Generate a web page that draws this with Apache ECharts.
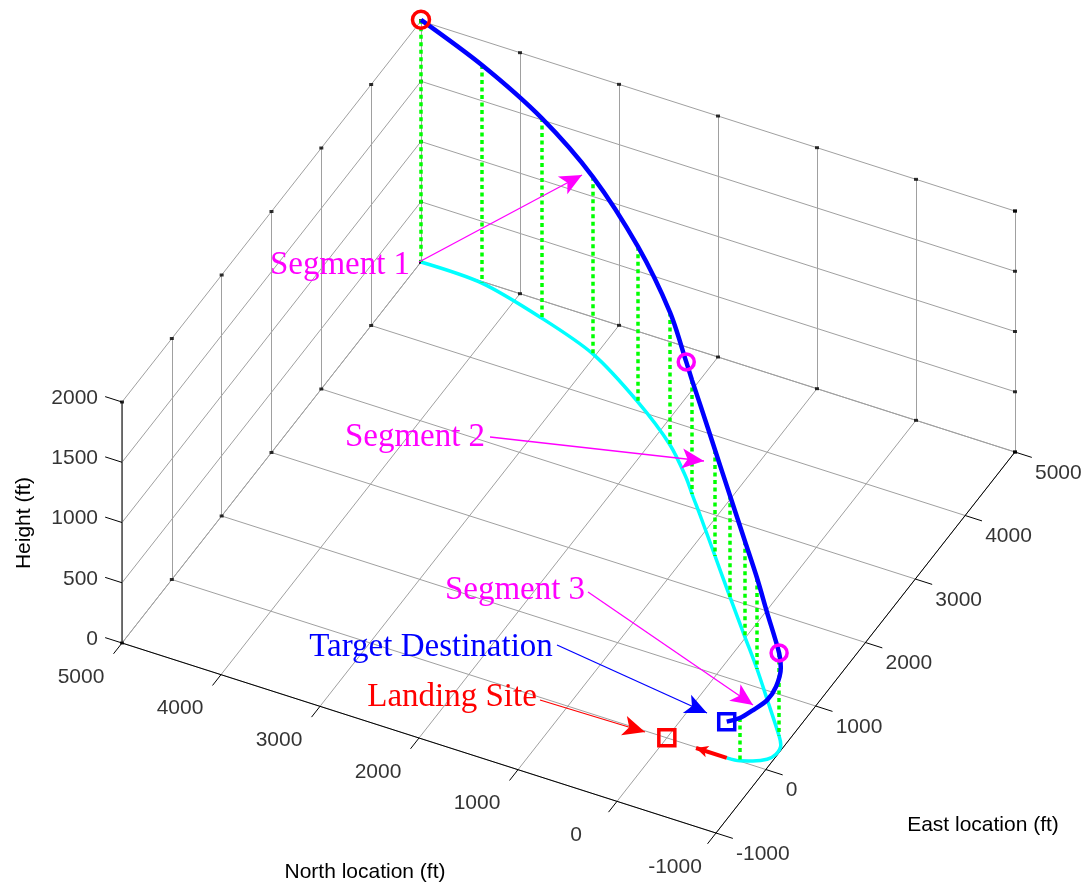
<!DOCTYPE html>
<html><head><meta charset="utf-8">
<script src="https://cdn.jsdelivr.net/npm/echarts@6/dist/echarts.min.js"></script>
<style>html,body{margin:0;padding:0;background:#fff}#c{width:1090px;height:888px}</style>
</head><body><div id="c"></div>
<script>
// ---------------- data ----------------
const northTicks  = [-1000, 0, 1000, 2000, 3000, 4000, 5000];
const eastTicks   = [-1000, 0, 1000, 2000, 3000, 4000, 5000];
const heightTicks = [0, 500, 1000, 1500, 2000];

// trajectory (ft)
const pathNorth  = [5000, 4375, 3670, 3030, 2360, 1830, 1490, 1342, 1144, 763, 382, 8, -292, -563, -895, -965, -985, -945, -840, -735, -610];
const pathEast   = [5000, 4980, 4780, 4535, 4110, 3700, 3350, 3171, 2939, 2483, 2027, 1584, 1230, 892, 475, 370, 235, 135, 55, 5, -10];
const pathHeight = [2010, 1810, 1660, 1470, 1290, 1100, 963, 945, 920, 880, 840, 795, 755, 720, 690, 640, 560, 490, 420, 355, 300];
const dropIndex = [0, 1, 2, 3, 4, 5, 7, 9, 10, 11, 12, 14, 19];
const segmentStartIndex = [6, 14];

const landingNorth = 0, landingEast = 0, landingHeight = 0;
const arrowNorth = [-610, -300];
const arrowEast  = [-10, -10];

const annotationTexts  = ['Segment 1', 'Segment 2', 'Segment 3', 'Target Destination', 'Landing Site'];
const annotationColors = ['#ff00ff', '#ff00ff', '#ff00ff', '#0000ff', '#ff0000'];

// ---------------- layout ----------------
const W = 1090, H = 888;
const view = { x0: 122, y0: 643, n: [99, 31.67], e: [49.83, -63.5], z: 120.5 };
const nMax = Math.max(...northTicks), nMin = Math.min(...northTicks);
const eMax = Math.max(...eastTicks),  eMin = Math.min(...eastTicks);
const zMax = Math.max(...heightTicks);
function P(n, e, z) {
  const a = (nMax - n) / 1000, b = (e - eMin) / 1000, c = z / 1000;
  return [view.x0 + a * view.n[0] + b * view.e[0], view.y0 + a * view.n[1] + b * view.e[1] - c * view.z];
}
// annotation layout (figure pixels): text centre, arrow start, arrow end
const annotationLayout = [
  { text: [340, 265], from: [419, 262], to: [582, 175] },
  { text: [415, 437], from: [490, 437], to: [704, 461] },
  { text: [515, 590], from: [588, 592], to: [753, 705] },
  { text: [431, 647], from: [557, 645], to: [707, 713] },
  { text: [452, 697], from: [540, 700], to: [645, 732] }
];

// ---------------- build geometry ----------------
const gridSegs = [];
northTicks.forEach(n => gridSegs.push({ coords: [P(n, eMin, 0), P(n, eMax, 0)] }));
eastTicks.forEach(e => gridSegs.push({ coords: [P(nMin, e, 0), P(nMax, e, 0)] }));
eastTicks.forEach(e => gridSegs.push({ coords: [P(nMax, e, 0), P(nMax, e, zMax)] }));
heightTicks.forEach(z => gridSegs.push({ coords: [P(nMax, eMin, z), P(nMax, eMax, z)] }));
northTicks.forEach(n => gridSegs.push({ coords: [P(n, eMax, 0), P(n, eMax, zMax)] }));
heightTicks.forEach(z => gridSegs.push({ coords: [P(nMin, eMax, z), P(nMax, eMax, z)] }));

const axisSegs = [
  { coords: [P(nMax, eMin, 0), P(nMax, eMin, zMax)], lineStyle: { width: 1.6, color: '#555' } },
  { coords: [P(nMax, eMin, 0), P(nMin, eMin, 0)] },
  { coords: [P(nMin, eMin, 0), P(nMin, eMax, 0)] }
];
const tickLen = 170;
heightTicks.forEach(z => axisSegs.push({ coords: [P(nMax, eMin, z), P(nMax + tickLen, eMin, z)] }));
northTicks.forEach(n => axisSegs.push({ coords: [P(n, eMin, 0), P(n, eMin - tickLen, 0)] }));
eastTicks.forEach(e => axisSegs.push({ coords: [P(nMin, e, 0), P(nMin - tickLen, e, 0)] }));

// small tick marks on the back edges of the box
const backTicks = [];
northTicks.forEach(n => { backTicks.push(P(n, eMax, zMax)); backTicks.push(P(n, eMax, 0)); });
eastTicks.forEach(e => { backTicks.push(P(nMax, e, zMax)); backTicks.push(P(nMax, e, 0)); });
heightTicks.forEach(z => { backTicks.push(P(nMax, eMax, z)); backTicks.push(P(nMin, eMax, z)); });

const tickLabels = [];
heightTicks.forEach(z => tickLabels.push({ value: P(nMax, eMin, z), label: { formatter: String(z), align: 'right', offset: [-24, -4] } }));
northTicks.forEach(n => tickLabels.push({ value: P(n, eMin, 0), label: { formatter: String(n), align: 'center', offset: [-41, 34] } }));
eastTicks.forEach(e => tickLabels.push({ value: P(nMin, e, 0), label: { formatter: String(e), align: 'left', offset: [20, 21] } }));

const air = pathNorth.map((n, i) => P(n, pathEast[i], pathHeight[i]));
const ground = pathNorth.map((n, i) => P(n, pathEast[i], 0));
const drops = dropIndex.map(i => ({ coords: [air[i], ground[i]] }));
const last = pathNorth.length - 1;

const markers = [
  { value: air[0], symbol: 'circle', symbolSize: 17, itemStyle: { borderColor: '#ff0000' } },
  ...segmentStartIndex.map(i => ({ value: air[i], symbol: 'circle', symbolSize: 16, itemStyle: { borderColor: '#ff00ff' } })),
  { value: air[last], symbol: 'rect', symbolSize: 16, itemStyle: { borderColor: '#0000ff' } },
  { value: P(landingNorth, landingEast, landingHeight), symbol: 'rect', symbolSize: 16, itemStyle: { borderColor: '#ff0000' } }
];

const annArrows = annotationLayout.map((a, i) => ({
  coords: [a.from, a.to], lineStyle: { color: annotationColors[i] }, itemStyle: { color: annotationColors[i] }
}));

const font = "'Liberation Sans', Arial, sans-serif";
const serif = "'Liberation Serif', 'Times New Roman', serif";
const graphics = [
  { type: 'text', x: 24, y: 523, rotation: Math.PI / 2, style: { text: 'Height (ft)', font: '21px ' + font, fill: '#000', textAlign: 'center', textVerticalAlign: 'middle' } },
  { type: 'text', x: 365, y: 872, style: { text: 'North location (ft)', font: '21px ' + font, fill: '#000', textAlign: 'center', textVerticalAlign: 'middle' } },
  { type: 'text', x: 983, y: 825, style: { text: 'East location (ft)', font: '21px ' + font, fill: '#000', textAlign: 'center', textVerticalAlign: 'middle' } }
];
annotationLayout.forEach((a, i) => graphics.push({
  type: 'text', x: a.text[0], y: a.text[1], z: 100,
  style: { text: annotationTexts[i], font: '33px ' + serif, fill: annotationColors[i], textAlign: 'center', textVerticalAlign: 'middle' }
}));

const chart = echarts.init(document.getElementById('c'), null, { renderer: 'canvas', width: W, height: H });
chart.setOption({
  animation: false,
  backgroundColor: '#ffffff',
  grid: { left: 0, right: 0, top: 0, bottom: 0 },
  xAxis: { type: 'value', min: 0, max: W, show: false },
  yAxis: { type: 'value', min: 0, max: H, inverse: true, show: false },
  graphic: graphics,
  series: [
    { type: 'lines', coordinateSystem: 'cartesian2d', z: 1, silent: true,
      lineStyle: { color: '#a0a0a0', width: 1, opacity: 1 }, data: gridSegs },
    { type: 'scatter', z: 2, silent: true, symbol: 'rect', symbolSize: [4, 3], data: backTicks,
      itemStyle: { color: '#000' } },
    { type: 'lines', coordinateSystem: 'cartesian2d', z: 2, silent: true,
      lineStyle: { color: '#000', width: 1, opacity: 1 }, data: axisSegs },
    { type: 'scatter', z: 3, silent: true, symbolSize: 0, data: tickLabels,
      label: { show: true, position: 'inside', color: '#000', fontSize: 21, fontFamily: font, verticalAlign: 'middle' } },
    { type: 'line', z: 4, silent: true, data: ground, smooth: 0.3, symbol: 'none',
      lineStyle: { color: '#00ffff', width: 3.5 } },
    { type: 'lines', coordinateSystem: 'cartesian2d', z: 5, silent: true,
      lineStyle: { color: '#00ff00', width: 3.5, type: [4, 3.5], opacity: 1 }, data: drops },
    { type: 'line', z: 6, silent: true, data: air, smooth: 0.3, symbol: 'none',
      lineStyle: { color: '#0000ff', width: 4.5 } },
    { type: 'lines', coordinateSystem: 'cartesian2d', z: 7, silent: true,
      symbol: ['none', 'arrow'], symbolSize: [1, [9, 12]],
      lineStyle: { color: '#ff0000', width: 4, opacity: 1 }, itemStyle: { color: '#ff0000' },
      data: [{ coords: [P(arrowNorth[0], arrowEast[0], 0), P(arrowNorth[1], arrowEast[1], 0)] }] },
    { type: 'scatter', z: 8, silent: true, data: markers,
      itemStyle: { color: 'rgba(0,0,0,0)', borderWidth: 3.5, opacity: 1 } },
    { type: 'lines', coordinateSystem: 'cartesian2d', z: 9, silent: true,
      symbol: ['none', 'arrow'], symbolSize: [1, [15, 22]],
      lineStyle: { width: 1.3, opacity: 1 }, data: annArrows }
  ]
});
</script>
</body></html>
